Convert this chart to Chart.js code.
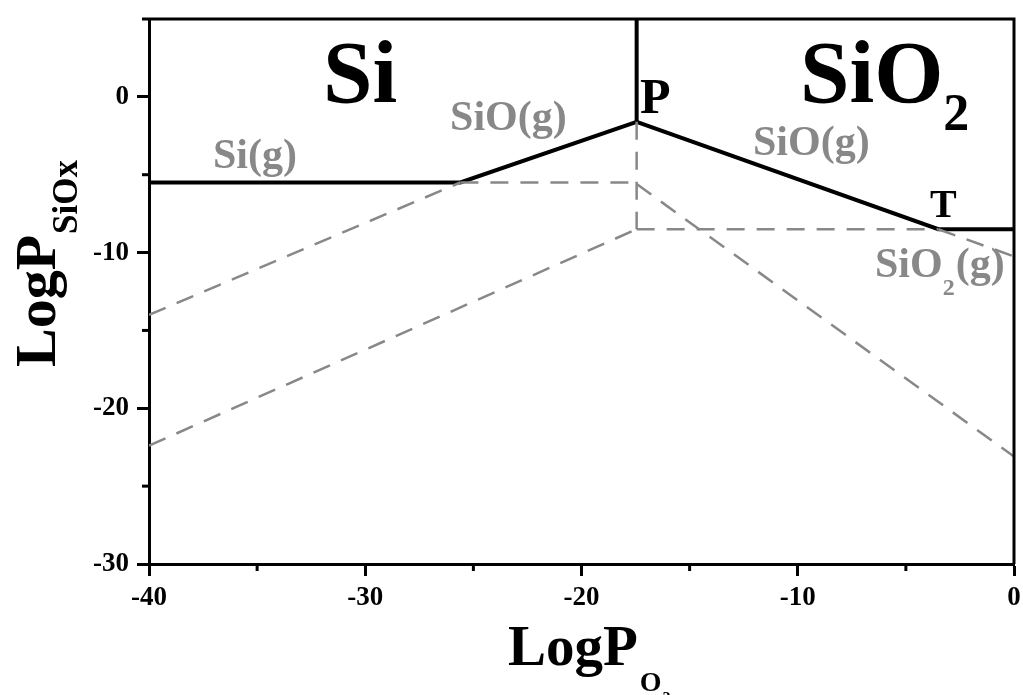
<!DOCTYPE html>
<html>
<head>
<meta charset="utf-8">
<script src="https://cdn.jsdelivr.net/npm/chart.js@4.4.1/dist/chart.umd.min.js"></script>
<style>
  html, body { margin: 0; padding: 0; background: #ffffff; }
  #wrap { width: 1023px; height: 695px; position: relative; }
</style>
</head>
<body>
<div id="wrap"><canvas id="c" width="1023" height="695"></canvas></div>
<script>
// ---------- data ----------
const xTickLabels = [-40, -30, -20, -10, 0];
const yTickLabels = [-30, -20, -10, 0];

// solid phase boundary: Si(g) / SiO(g) / SiO(g) / SiO2(g)
const boundaryX = [-40, -25.6, -17.45, -3.5, 0];
const boundaryY = [-5.5, -5.5, -1.6, -8.5, -8.5];
// solid vertical boundary Si | SiO2
const verticalX = [-17.45, -17.45];
const verticalY = [-1.6, 5];

// dashed extension lines
const dashAX = [-40, -25.6];     const dashAY = [-14.0, -5.5];
const dashBX = [-25.6, -17.45];  const dashBY = [-5.5, -5.5];
const dashCX = [-17.45, -17.45]; const dashCY = [-1.6, -8.5];
const dashDX = [-17.45, -3.5];   const dashDY = [-8.5, -8.5];
const dashEX = [-40, -17.45];    const dashEY = [-22.4, -8.5];
const dashFX = [-17.45, 0];      const dashFY = [-5.6, -23.1];
const dashGX = [-3.5, 0];        const dashGY = [-8.5, -10.25];

// text annotations: anchor in data units (left edge, baseline)
const annX = [-31.95, -9.9, -17.30, -3.88, -37.04, -26.08, -12.07, -6.43];
const annY = [-0.32, -0.32, -1.03, -7.71, -4.56, -2.12, -3.73, -11.56];

// ---------- helpers ----------
const FONT = "'Liberation Serif', 'Times New Roman', serif";
const BLACK = '#000000';
const GRAY = '#888888';

function pts(xs, ys) { return xs.map((x, i) => ({ x: x, y: ys[i] })); }

function solid(xs, ys) {
  return { data: pts(xs, ys), borderColor: BLACK, borderWidth: 4, showLine: true,
           pointRadius: 0, fill: false, tension: 0, borderJoinStyle: 'miter', borderCapStyle: 'butt' };
}
function dashed(xs, ys) {
  return { data: pts(xs, ys), borderColor: GRAY, borderWidth: 2.5, borderDash: [18, 12], showLine: true,
           pointRadius: 0, fill: false, tension: 0, borderCapStyle: 'butt' };
}

const annStyle = [
  { color: BLACK, parts: [{ t: 'Si', s: 89, dy: 0 }] },
  { color: BLACK, parts: [{ t: 'SiO', s: 89, dy: 0 }, { t: '2', s: 52, dy: 28 }] },
  { color: BLACK, parts: [{ t: 'P', s: 50, dy: 0 }] },
  { color: BLACK, parts: [{ t: 'T', s: 40, dy: 0 }] },
  { color: GRAY, parts: [{ t: 'Si(g)', s: 42, dy: 0 }] },
  { color: GRAY, parts: [{ t: 'SiO(g)', s: 42, dy: 0 }] },
  { color: GRAY, parts: [{ t: 'SiO(g)', s: 42, dy: 0 }] },
  { color: GRAY, parts: [{ t: 'SiO', s: 42, dy: 0 }, { t: '2', s: 24, dy: 18 }, { t: '(g)', s: 42, dy: 0 }] }
];

const decorPlugin = {
  id: 'decor',
  afterDraw(chart) {
    const ctx = chart.ctx;
    const a = chart.chartArea;
    const xs = chart.scales.x, ys = chart.scales.y;
    ctx.save();
    // frame top / right
    ctx.strokeStyle = BLACK;
    ctx.lineWidth = 3;
    ctx.beginPath();
    ctx.moveTo(a.left, a.top);
    ctx.lineTo(a.right, a.top);
    ctx.lineTo(a.right, a.bottom);
    ctx.stroke();
    // minor ticks
    ctx.lineWidth = 3;
    xs.ticks.forEach(t => {
      if (t.value % 10 !== 0) {
        const p = xs.getPixelForValue(t.value);
        ctx.beginPath(); ctx.moveTo(p, a.bottom); ctx.lineTo(p, a.bottom + 7); ctx.stroke();
      }
    });
    ys.ticks.forEach(t => {
      if (t.value % 10 !== 0) {
        const p = ys.getPixelForValue(t.value);
        ctx.beginPath(); ctx.moveTo(a.left, p); ctx.lineTo(a.left - 7, p); ctx.stroke();
      }
    });
    // annotations
    ctx.textBaseline = 'alphabetic';
    ctx.textAlign = 'left';
    annStyle.forEach((st, i) => {
      let px = xs.getPixelForValue(annX[i]);
      const py = ys.getPixelForValue(annY[i]);
      ctx.fillStyle = st.color;
      st.parts.forEach(p => {
        ctx.font = 'bold ' + p.s + 'px ' + FONT;
        ctx.fillText(p.t, px, py + p.dy);
        px += ctx.measureText(p.t).width + (p.dy ? 1 : 0);
      });
    });
    // x axis title: LogP_{O_2}
    ctx.fillStyle = BLACK;
    let tx = a.left + 359, ty = a.bottom + 101;
    ctx.font = 'bold 57px ' + FONT;
    ctx.fillText('LogP', tx, ty);
    tx += ctx.measureText('LogP').width + 2;
    ctx.font = 'bold 28px ' + FONT;
    ctx.fillText('O', tx, ty + 26);
    tx += ctx.measureText('O').width + 1;
    ctx.font = 'bold 16px ' + FONT;
    ctx.fillText('2', tx, ty + 38);
    // y axis title: LogP_{SiOx}
    ctx.save();
    ctx.translate(55, 367);
    ctx.rotate(-Math.PI / 2);
    ctx.font = 'bold 58px ' + FONT;
    ctx.fillText('LogP', 0, 0);
    const w = ctx.measureText('LogP').width;
    ctx.font = 'bold 35px ' + FONT;
    ctx.fillText('SiOx', w + 1, 22);
    ctx.restore();
    ctx.restore();
  }
};

const tickFont = { family: FONT, size: 27, weight: 'bold' };

new Chart(document.getElementById('c'), {
  type: 'scatter',
  data: {
    datasets: [
      dashed(dashAX, dashAY),
      dashed(dashBX, dashBY),
      dashed(dashCX, dashCY),
      dashed(dashDX, dashDY),
      dashed(dashEX, dashEY),
      dashed(dashFX, dashFY),
      dashed(dashGX, dashGY),
      solid(boundaryX, boundaryY),
      solid(verticalX, verticalY)
    ]
  },
  options: {
    responsive: false,
    animation: false,
    layout: { padding: { top: 19, right: 9, left: 0, bottom: 0 } },
    plugins: { legend: { display: false }, tooltip: { enabled: false } },
    scales: {
      x: {
        type: 'linear', min: -40, max: 0,
        afterFit: s => { s.height = 131; s.paddingLeft = 0; s.paddingRight = 0; },
        border: { display: true, color: BLACK, width: 3 },
        grid: {
          drawOnChartArea: false, drawTicks: true, tickLength: 12, tickWidth: 3,
          tickColor: c => (c.tick && c.tick.value % 10 === 0) ? BLACK : 'rgba(0,0,0,0)'
        },
        ticks: {
          stepSize: 5, color: BLACK, font: tickFont, padding: 6, maxRotation: 0, autoSkip: false,
          callback: v => xTickLabels.includes(v) ? String(v) : ''
        }
      },
      y: {
        type: 'linear', min: -30, max: 5,
        afterFit: s => { s.width = 149; s.paddingTop = 0; s.paddingBottom = 0; },
        border: { display: true, color: BLACK, width: 3 },
        grid: {
          drawOnChartArea: false, drawTicks: true, tickLength: 12, tickWidth: 3,
          tickColor: c => (c.tick && c.tick.value % 10 === 0) ? BLACK : 'rgba(0,0,0,0)'
        },
        ticks: {
          stepSize: 5, color: BLACK, font: tickFont, padding: 8, autoSkip: false,
          callback: v => yTickLabels.includes(v) ? String(v) : ''
        }
      }
    }
  },
  plugins: [decorPlugin]
});
</script>
</body>
</html>
